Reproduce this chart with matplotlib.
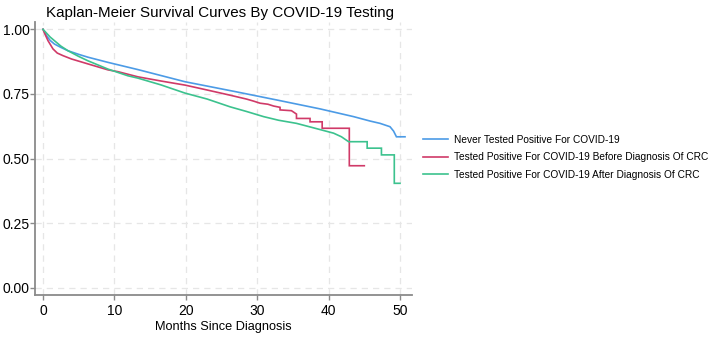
import matplotlib
matplotlib.use("Agg")
import matplotlib.pyplot as plt

plt.rcParams['font.family'] = ['Liberation Sans', 'DejaVu Sans']

# ---- data ----
never_x = [0, 0.5, 1.0, 1.6, 2.5, 3.5, 5.0, 6.3, 9.1, 13.3, 19.9, 26.9, 33.0, 38.8,
           43.5, 45.8, 47.2, 48.6, 49.1, 49.5, 50.7]
never_y = [1.0, 0.975, 0.957, 0.943, 0.93, 0.917, 0.903, 0.892, 0.872, 0.844, 0.797,
           0.759, 0.725, 0.692, 0.662, 0.645, 0.636, 0.623, 0.606, 0.584, 0.584]

before_x = [0, 0.3, 0.7, 1.4, 2.0, 2.8, 4.0, 6.3, 9.1, 10.5, 13.3, 16.5, 19.9, 23.0,
            26.2, 28.5, 29.5, 30.4, 31.5, 32.3, 33.2, 33.2, 34.8, 35.5, 35.5, 37.4,
            37.4, 39.1, 39.1, 42.9, 42.9, 45.0]
before_y = [1.0, 0.98, 0.956, 0.924, 0.908, 0.898, 0.885, 0.866, 0.843, 0.836, 0.816,
            0.80, 0.784, 0.765, 0.745, 0.73, 0.722, 0.714, 0.71, 0.703, 0.698, 0.688,
            0.685, 0.672, 0.655, 0.655, 0.642, 0.642, 0.617, 0.617, 0.472, 0.472]

after_x = [0, 0.5, 1.0, 1.6, 2.5, 3.5, 5.0, 6.3, 9.1, 11.9, 13.3, 16.5, 19.9, 23.0,
           26.2, 28.5, 30.9, 33.0, 35.5, 38.8, 40.7, 41.8, 42.8, 45.4, 45.4, 47.4,
           47.4, 49.2, 49.2, 50.0]
after_y = [1.0, 0.985, 0.97, 0.956, 0.935, 0.917, 0.895, 0.878, 0.846, 0.82, 0.811,
           0.785, 0.753, 0.73, 0.70, 0.682, 0.662, 0.648, 0.636, 0.612, 0.598, 0.584,
           0.565, 0.565, 0.54, 0.54, 0.514, 0.514, 0.404, 0.404]

labels = ["Never Tested Positive For COVID-19",
          "Tested Positive For COVID-19 Before Diagnosis Of CRC",
          "Tested Positive For COVID-19 After Diagnosis Of CRC"]
colors = ["#4C9BE6", "#D03A68", "#3CC28E"]

x_ticks = [0, 10, 20, 30, 40, 50]
y_ticks = [0.0, 0.25, 0.5, 0.75, 1.0]
y_ticklabels = ["0.00", "0.25", "0.50", "0.75", "1.00"]

# ---- figure ----
W, H = 709, 337
fig = plt.figure(figsize=(W / 100, H / 100), dpi=100)
ax = fig.add_axes([35 / W, 1 - 295.3 / H, (412 - 35) / W, (295.3 - 21.7) / H])

for xs, ys, c, lab in zip([never_x, before_x, after_x], [never_y, before_y, after_y],
                          colors, labels):
    ax.plot(xs, ys, color=c, lw=1.2, label=lab, solid_joinstyle='miter')

ax.set_xlim(-1.12, 51.68)
ax.set_ylim(-0.0294, 1.0294)
ax.set_xticks(x_ticks)
ax.set_yticks(y_ticks)
ax.set_yticklabels(y_ticklabels)

for s in ['top', 'right']:
    ax.spines[s].set_visible(False)
for s in ['left', 'bottom']:
    ax.spines[s].set_color('#8a8a8a')
    ax.spines[s].set_linewidth(1.3)

ax.tick_params(axis='both', colors='#8a8a8a', labelcolor='black', length=3.5,
               width=1.0, labelsize=10)
ax.tick_params(axis='y', pad=0.5)
ax.tick_params(axis='x', pad=3)
ax.grid(True, color='#e6e6e6', linestyle=(0, (5, 4)), linewidth=0.9)
ax.set_axisbelow(True)

ax.set_xlabel("Months Since Diagnosis", fontsize=9.2, labelpad=2)

fig.text(46 / W, 1 - 16.7 / H, "Kaplan-Meier Survival Curves By COVID-19 Testing",
         fontsize=10.9, ha='left', va='baseline')

fig.legend(loc='upper left', bbox_to_anchor=(422.7 / W, 1 - 134.5 / H),
           frameon=False, fontsize=7.3, handlelength=2.5, handletextpad=0.63,
           labelspacing=0.75, borderpad=0, borderaxespad=0)

fig.savefig("out.png", dpi=100)
